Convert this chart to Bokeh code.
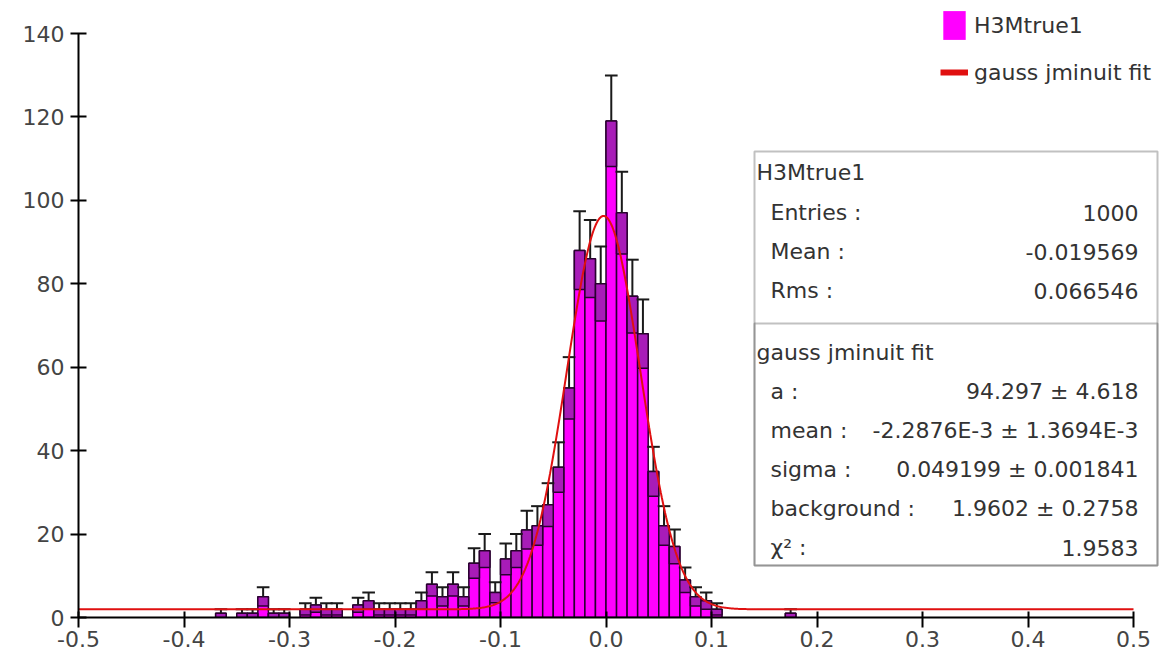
import numpy as np
from bokeh.plotting import figure
from bokeh.models import (ColumnDataSource, Range1d, BoxAnnotation, Label, Legend,
                          LegendItem, FixedTicker)
from bokeh.embed import file_html
from bokeh.resources import INLINE

# ---- data ----
bin_width = 0.01
bin_low_edges = [-0.37, -0.35, -0.34, -0.33, -0.32, -0.31, -0.29, -0.28, -0.27, -0.26,
                 -0.24, -0.23, -0.22, -0.21, -0.20, -0.19, -0.18, -0.17, -0.16, -0.15,
                 -0.14, -0.13, -0.12, -0.11, -0.10, -0.09, -0.08, -0.07, -0.06, -0.05,
                 -0.04, -0.03, -0.02, -0.01, 0.00, 0.01, 0.02, 0.03, 0.04, 0.05,
                 0.06, 0.07, 0.08, 0.09, 0.10, 0.17]
counts = [1, 1, 1, 5, 1, 1, 2, 3, 2, 2,
          3, 4, 2, 2, 2, 2, 4, 8, 5, 8,
          5, 13, 16, 6, 14, 16, 21, 22, 27, 36,
          55, 88, 86, 80, 119, 97, 77, 68, 35, 22,
          17, 9, 5, 4, 2, 1]

# fit parameters as printed in the statistics box
fit_a = 94.297
fit_mean = -2.2876e-3
fit_sigma = 0.049199
fit_bg = 1.9602

x_ticks = [-0.5, -0.4, -0.3, -0.2, -0.1, 0.0, 0.1, 0.2, 0.3, 0.4, 0.5]
x_tick_labels = ["-0.5", "-0.4", "-0.3", "-0.2", "-0.1", "0.0", "0.1", "0.2", "0.3", "0.4", "0.5"]
y_ticks = [0, 20, 40, 60, 80, 100, 120, 140]
y_tick_labels = ["0", "20", "40", "60", "80", "100", "120", "140"]

stats_title = "H3Mtrue1"
stats_rows = [("Entries :", "1000"), ("Mean :", "-0.019569"), ("Rms :", "0.066546")]
fit_title = "gauss jminuit fit"
fit_rows = [("a :", "94.297 \u00b1 4.618"),
            ("mean :", "-2.2876E-3 \u00b1 1.3694E-3"),
            ("sigma :", "0.049199 \u00b1 0.001841"),
            ("background :", "1.9602 \u00b1 0.2758"),
            ("\u03c7\u00b2 :", "1.9583")]

# ---- derived ----
edges = np.array(bin_low_edges)
cnt = np.array(counts, dtype=float)
err = np.sqrt(cnt)
src = ColumnDataSource(dict(
    left=edges, right=edges + bin_width, x=edges + bin_width / 2,
    top=cnt, ebot=np.maximum(cnt - err, 0), etop=cnt + err,
    cl=edges + bin_width / 2 - 0.006, cr=edges + bin_width / 2 + 0.006))

fx = np.linspace(-0.5, 0.5, 1001)
fy = fit_bg + fit_a * np.exp(-((fx - fit_mean) / fit_sigma) ** 2)

FONT = "DejaVu Sans"
FS = "22px"
TXT = "#333333"

p = figure(width=1160, height=669, output_backend="svg", toolbar_location=None,
           x_range=Range1d(-0.5, -0.5 + 1082 / 1055), y_range=Range1d(0, 140 * 617 / 584),
           min_border_left=78, min_border_right=0, min_border_top=0, min_border_bottom=52)
p.outline_line_color = None
p.xgrid.visible = False
p.ygrid.visible = False
p.background_fill_color = "white"
p.border_fill_color = "white"

edge_col = "#2a0030"
r_bars = p.quad(left="left", right="right", bottom=0, top="top", source=src,
                fill_color="#ff00ff", line_color=edge_col, line_width=1.5)
p.quad(left="left", right="right", bottom="ebot", top="top", source=src,
       fill_color="#a81cb8", line_color=edge_col, line_width=1.5)
p.segment(x0="x", y0="top", x1="x", y1="etop", source=src, line_color="#1a1a1a", line_width=2)
p.segment(x0="cl", y0="etop", x1="cr", y1="etop", source=src, line_color="#1a1a1a", line_width=2)
r_fit = p.line(fx, fy, line_color="#e01010", line_width=2)

# axes
for ax in (p.xaxis[0], p.yaxis[0]):
    ax.axis_line_color = "black"
    ax.axis_line_width = 2
    ax.major_tick_line_color = "black"
    ax.major_tick_line_width = 2
    ax.minor_tick_line_color = None
    ax.major_label_text_font = FONT
    ax.major_label_text_font_size = FS
    ax.major_label_text_color = "#444444"
p.xaxis.ticker = FixedTicker(ticks=x_ticks)
p.xaxis.major_label_overrides = {t: l for t, l in zip(x_ticks, x_tick_labels)}
p.xaxis.bounds = (-0.5, 0.5)
p.xaxis.major_tick_in = 6
p.xaxis.major_tick_out = 10
p.xaxis.major_label_standoff = 3
p.yaxis.ticker = FixedTicker(ticks=y_ticks)
p.yaxis.major_label_overrides = {t: l for t, l in zip(y_ticks, y_tick_labels)}
p.yaxis.bounds = (0, 140)
p.yaxis.major_tick_in = 8
p.yaxis.major_tick_out = 8
p.yaxis.major_label_standoff = 6

# legend: key renderers hold a single NaN point so they draw nothing in the plot
leg_bar_src = ColumnDataSource(dict(l=[np.nan], r=[np.nan], b=[np.nan], t=[np.nan]))
r_leg_bar = p.quad(left="l", right="r", bottom="b", top="t", source=leg_bar_src,
                   fill_color="#ff00ff", line_color=None)
leg_line_src = ColumnDataSource(dict(x=[np.nan, np.nan], y=[np.nan, np.nan]))
r_leg_line = p.line(x="x", y="y", source=leg_line_src, line_color="#e01010", line_width=6)
legend = Legend(items=[LegendItem(label="H3Mtrue1", renderers=[r_leg_bar]),
                       LegendItem(label=fit_title, renderers=[r_leg_line])],
                location=(862, 527), orientation="vertical",
                glyph_width=28, glyph_height=36, label_height=36, spacing=11,
                label_standoff=6, padding=0, margin=0,
                border_line_color=None, background_fill_alpha=0,
                label_text_font=FONT, label_text_font_size=FS, label_text_color=TXT)
p.add_layout(legend)

# statistics box (screen coordinates inside the frame)
box_l, box_r, box_t, box_b, box_div = 676, 1079, 466, 52, 294
p.add_layout(BoxAnnotation(left=box_l, right=box_r, top=box_t, bottom=box_b,
                           left_units="screen", right_units="screen",
                           top_units="screen", bottom_units="screen",
                           fill_color="white", fill_alpha=1.0,
                           line_color="#333333", line_width=2))
p.add_layout(BoxAnnotation(left=box_l, right=box_r, top=box_div, bottom=box_b,
                           left_units="screen", right_units="screen",
                           top_units="screen", bottom_units="screen",
                           fill_alpha=0, line_color="#333333", line_width=2))

def lab(x, y, text, align="left"):
    p.add_layout(Label(x=x, y=y, x_units="screen", y_units="screen", text=text,
                       text_font=FONT, text_font_size=FS, text_color=TXT,
                       text_align=align, text_baseline="middle"))

lab(678, 445, stats_title)
for (k, v), y in zip(stats_rows, [405, 366, 327]):
    lab(692, y, k)
    lab(1060, y, v, "right")
lab(678, 265, fit_title)
for (k, v), y in zip(fit_rows, [226, 187, 148, 109, 70]):
    lab(692, y, k)
    lab(1060, y, v, "right")

open("out.html", "w").write(file_html(p, INLINE))
